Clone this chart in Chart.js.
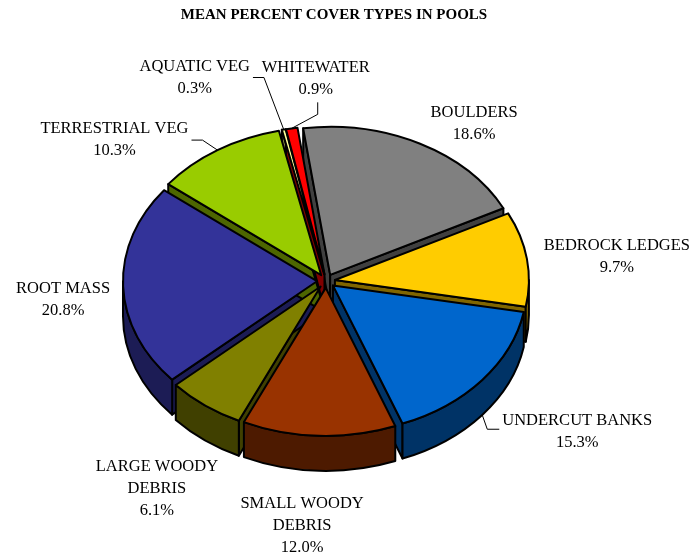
<!DOCTYPE html>
<html>
<head>
<meta charset="utf-8"/>
<style>
  html,body{margin:0;padding:0;background:#fff;}
  #c{display:block;}
</style>
</head>
<body>
<canvas id="c" width="694" height="557"></canvas>
<script src="https://cdn.jsdelivr.net/npm/chart.js@4.4.0/dist/chart.umd.min.js"></script>
<script>
const categories = ['BOULDERS', 'BEDROCK LEDGES', 'UNDERCUT BANKS', ['SMALL WOODY', 'DEBRIS'],
                    ['LARGE WOODY', 'DEBRIS'], 'ROOT MASS', 'TERRESTRIAL VEG', 'AQUATIC VEG', 'WHITEWATER'];
const percents   = [18.6, 9.7, 15.3, 12.0, 6.1, 20.8, 10.3, 0.3, 0.9];
const topColors  = ['#808080', '#FFCC00', '#0066CC', '#993300', '#808000', '#333399', '#99CC00', '#FFFF99', '#FF0000'];
const sideColors = ['#404040', '#806600', '#003366', '#4D1A00', '#404000', '#1C1C55', '#4D6600', '#808040', '#800000'];

// pie placement on the page (top face is an ellipse, DEPTH is the wall height)
const CX = 326, CY = 281, TILT = 0.763, DEPTH = 35, EXPLODE = 9;
const FONT = "'Liberation Serif', 'Times New Roman', serif";

// label offset from the slice rim, and which side of the label gets a leader stub
const labelNudge = [[54, -20], [90, -2], [95, 29], [-17, 55], [-48, 55], [-60, 12], [-103, -10], [-89, -52], [24, -50]];
const leaderSide = [null, null, 'left', null, null, null, 'right', 'right', 'bottom'];

function sliceGeo(chart) {
  const meta = chart.getDatasetMeta(0);
  return meta.data.map((arc, i) => {
    const p = arc.getProps(['startAngle', 'endAngle', 'outerRadius'], true);
    const mid = (p.startAngle + p.endAngle) / 2;
    return { i, a: p.startAngle, b: p.endAngle, r: p.outerRadius, mid,
             cx: CX + Math.cos(mid) * EXPLODE, cy: CY + Math.sin(mid) * EXPLODE * TILT };
  });
}

function rim(s, ang, drop) {
  return { x: s.cx + s.r * Math.cos(ang), y: s.cy + s.r * TILT * Math.sin(ang) + (drop || 0) };
}

const pie3d = {
  id: 'pie3d',
  beforeDatasetsDraw(chart) {
    const ctx = chart.ctx;
    const slices = sliceGeo(chart);
    ctx.save();
    ctx.lineWidth = 2;
    ctx.lineJoin = 'round';
    ctx.strokeStyle = '#000';

    // cut faces that look toward the viewer
    slices.forEach(s => {
      [[s.a, Math.cos(s.a) < 0], [s.b, Math.cos(s.b) > 0]].forEach(([ang, show]) => {
        if (!show) return;
        const p = rim(s, ang);
        ctx.beginPath();
        ctx.moveTo(s.cx, s.cy);
        ctx.lineTo(p.x, p.y);
        ctx.lineTo(p.x, p.y + DEPTH);
        ctx.lineTo(s.cx, s.cy + DEPTH);
        ctx.closePath();
        ctx.fillStyle = sideColors[s.i];
        ctx.fill();
        ctx.stroke();
      });
    });

    // curved outer walls on the front half
    slices.forEach(s => {
      const a1 = Math.max(s.a, 0), a2 = Math.min(s.b, Math.PI);
      if (a2 <= a1) return;
      ctx.beginPath();
      ctx.ellipse(s.cx, s.cy, s.r, s.r * TILT, 0, a1, a2);
      ctx.ellipse(s.cx, s.cy + DEPTH, s.r, s.r * TILT, 0, a2, a1, true);
      ctx.closePath();
      ctx.fillStyle = sideColors[s.i];
      ctx.fill();
      ctx.stroke();
    });

    // top faces
    slices.forEach(s => {
      ctx.beginPath();
      ctx.moveTo(s.cx, s.cy);
      ctx.ellipse(s.cx, s.cy, s.r, s.r * TILT, 0, s.a, s.b);
      ctx.closePath();
      ctx.fillStyle = topColors[s.i];
      ctx.fill();
      ctx.stroke();
    });
    ctx.restore();
    return false;
  },
  afterDraw(chart) {
    const ctx = chart.ctx;
    const slices = sliceGeo(chart);
    const lh = 22;
    ctx.save();
    ctx.font = '16.5px ' + FONT;
    ctx.fillStyle = '#000';
    ctx.strokeStyle = '#000';
    ctx.lineWidth = 1;
    ctx.textAlign = 'center';
    ctx.textBaseline = 'middle';
    slices.forEach(s => {
      const sn = Math.sin(s.mid);
      const anchor = rim(s, s.mid, sn > 0 ? DEPTH * sn : 0);
      const lx = anchor.x + labelNudge[s.i][0];
      const ly = anchor.y + labelNudge[s.i][1];
      const name = [].concat(categories[s.i]);
      const lines = name.concat(percents[s.i].toFixed(1) + '%');
      const top = ly - (lines.length - 1) * lh / 2;
      lines.forEach((t, k) => ctx.fillText(t, lx, top + k * lh));

      const side = leaderSide[s.i];
      if (!side) return;
      const hit = rim(s, s.mid, sn > 0 ? DEPTH : 0);
      const w = ctx.measureText(name[0]).width;
      ctx.beginPath();
      if (side === 'right') {
        ctx.moveTo(lx + w / 2 + 3, ly);
        ctx.lineTo(lx + w / 2 + 14, ly);
      } else if (side === 'left') {
        ctx.moveTo(lx - w / 2 - 3, ly - 2);
        ctx.lineTo(lx - w / 2 - 15, ly - 2);
      } else {
        const bottom = top + (lines.length - 1) * lh + 8;
        ctx.moveTo(lx + 2, bottom + 5);
        ctx.lineTo(lx + 2, bottom + 17);
      }
      ctx.lineTo(hit.x, hit.y);
      ctx.stroke();
    });
    ctx.restore();
  }
};

new Chart(document.getElementById('c'), {
  type: 'pie',
  data: {
    labels: categories,
    datasets: [{ data: percents, backgroundColor: topColors, borderColor: '#000', borderWidth: 2 }]
  },
  options: {
    responsive: false,
    animation: false,
    events: [],
    rotation: -8,
    radius: 194,
    layout: { padding: { right: 26 } },
    plugins: {
      legend: { display: false },
      tooltip: { enabled: false },
      title: {
        display: true,
        text: 'MEAN PERCENT COVER TYPES IN POOLS',
        color: '#000',
        font: { family: FONT, size: 15, weight: 'bold' },
        padding: { top: 6, bottom: 4 }
      }
    }
  },
  plugins: [pie3d]
});
</script>
</body>
</html>
